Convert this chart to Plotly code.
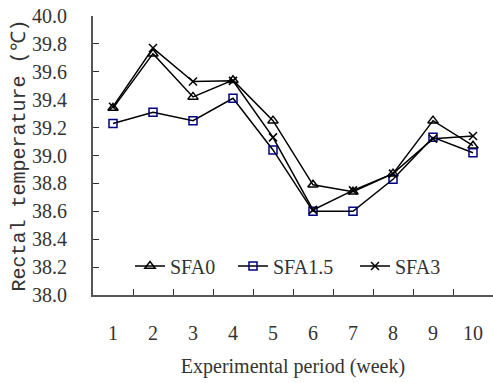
import plotly.graph_objects as go

# Weekly rectal temperature by treatment
weeks = ["1", "2", "3", "4", "5", "6", "7", "8", "9", "10"]
sfa0 = [39.34, 39.73, 39.42, 39.54, 39.25, 38.79, 38.74, 38.87, 39.25, 39.07]
sfa15 = [39.23, 39.31, 39.25, 39.41, 39.04, 38.60, 38.60, 38.83, 39.13, 39.02]
sfa3 = [39.35, 39.77, 39.53, 39.535, 39.13, 38.61, 38.75, 38.87, 39.12, 39.14]

SERIF = "Liberation Serif"
MONO = "Liberation Mono"
TEXT = "#333333"

fig = go.Figure()
fig.add_trace(go.Scatter(
    x=weeks, y=sfa0, name="SFA0", mode="lines+markers",
    line=dict(color="black", width=1.5),
    marker=dict(symbol="triangle-up-open", size=9, color="black", line=dict(width=1.5)),
    legend="legend",
))
fig.add_trace(go.Scatter(
    x=weeks, y=sfa15, name="SFA1.5", mode="lines+markers",
    line=dict(color="black", width=1.5),
    marker=dict(symbol="square-open", size=8, color="#000080", line=dict(width=1.5)),
    legend="legend2",
))
fig.add_trace(go.Scatter(
    x=weeks, y=sfa3, name="SFA3", mode="lines+markers",
    line=dict(color="black", width=1.5),
    marker=dict(symbol="x-thin-open", size=8, color="black", line=dict(width=1.5)),
    legend="legend3",
))


def legend_box(xpos):
    return dict(
        x=xpos, y=0.104, orientation="h", yanchor="middle", xanchor="left",
        bgcolor="rgba(0,0,0,0)",
        font=dict(family=SERIF, size=20, color=TEXT),
    )


fig.update_layout(
    width=493, height=383,
    margin=dict(l=93, r=0, t=16, b=88),
    paper_bgcolor="white", plot_bgcolor="white",
    showlegend=True,
    legend=legend_box(0.0925),
    legend2=legend_box(0.35),
    legend3=legend_box(0.655),
    font=dict(family=SERIF, size=20, color=TEXT),
)

fig.update_xaxes(
    type="category", tickson="boundaries",
    range=[-0.5, 9.5],
    showline=True, linecolor="#555555", linewidth=2,
    ticks="inside", ticklen=6, tickcolor="#333333", tickwidth=1,
    showgrid=False, zeroline=False,
    ticklabelstandoff=19,
    tickfont=dict(family=SERIF, size=20, color=TEXT),
    title=dict(text="Experimental period (week)", standoff=16,
               font=dict(family=SERIF, size=20, color=TEXT)),
)
fig.update_yaxes(
    range=[38.0, 40.0], dtick=0.2, tick0=38.0, tickformat=".1f",
    showline=True, linecolor="#555555", linewidth=2,
    ticks="inside", ticklen=6, tickcolor="#333333", tickwidth=1,
    showgrid=False, zeroline=False,
    ticklabelstandoff=20,
    tickfont=dict(family=SERIF, size=20, color=TEXT),
    title=dict(text="Rectal temperature (℃)", standoff=1,
               font=dict(family=MONO, size=20, color=TEXT)),
)

fig.write_html("out.html")
